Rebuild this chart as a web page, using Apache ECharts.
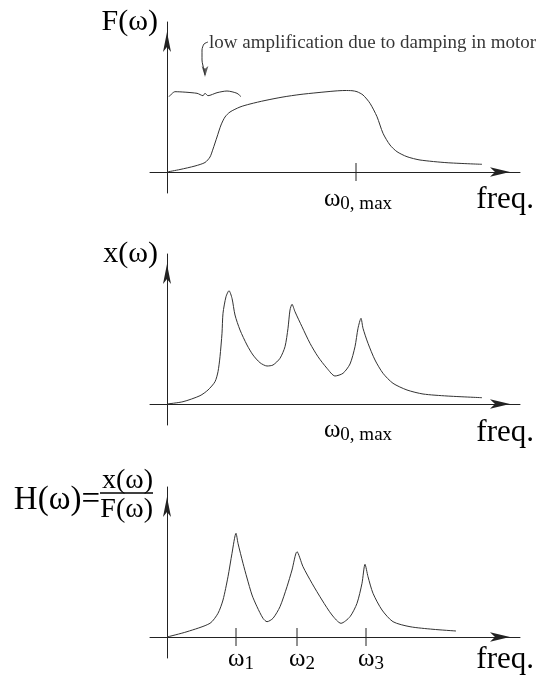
<!DOCTYPE html>
<html><head><meta charset="utf-8">
<script src="https://cdn.jsdelivr.net/npm/echarts@6/dist/echarts.min.js"></script>
<style>html,body{margin:0;padding:0;background:#fff}#c{width:539px;height:682px}</style>
</head><body><div id="c"></div>
<script>
// ---- data (frequency units along the axis, amplitude units up) ----
const forceFreq = [0,13,28,38,43,46,50,54,58,63,73,83,98,116,133,150,168,178,185,190,196,203,210,216,223,230,240,253,280,315];
const forceAmp  = [0,2.5,6,9.5,15,23,35,47,55,60,65,68,71.5,75,77.5,79.3,81,81.5,81.3,80.3,77,68.7,55.3,38.7,27,20.3,15.3,12,9.3,7.7];

const respFreq = [0,16,33,41,48,51,53,55,56,59,62,65,68,73,80,86,93,100,106,113,118,121,123,125,128,135,143,151,160,168,176,183,188,191,194,196,201,208,216,226,240,256,280,315];
const respAmp  = [0,2.3,8.3,14,22.3,32.3,47.3,70.7,90.7,107.3,113.3,105.7,89,74,59,49,41.3,38,39,45.7,57.3,75.7,94,99.7,92.3,77.3,60.7,47.3,35.7,28,30.7,40,57.3,75.7,85.7,75.7,60.7,44,30.7,20.7,14,10,8,6.3];

const transFreq = [0,20,43,51,56,61,65,69,71,76,80,85,90,96,100,106,113,120,125,130,136,145,155,165,174,183,190,195,198,201,206,215,226,243,266,289];
const transAmp  = [0,5.3,13.7,23.7,37,60.3,83.7,103.7,93.7,73.7,59,42,30.3,18.7,15.3,18.7,30.3,50.3,67,85.3,70.3,53.7,37,22,13.7,20.3,33.7,53.7,72.7,60.3,43.7,27,15.3,10.3,7.7,6];

const maxFreqTicks = [189];
const maxFreqLabels = ['0, max'];
const resonanceTicks = [69, 130, 199];
const resonanceLabels = ['1', '2', '3'];

const braceFreq = [2,8,30,36,38,41,50,60,70,74];
const braceAmp  = [75.3,80.3,78.7,76.3,78.7,76.3,79.3,81,78.7,75.3];
const leaderFreq = [41,37,35,35,37,38];
const leaderAmp  = [130,128,122,112,102,97];
const arrowHead = [[38, 95]];
const annotationAnchor = [[41, 129]];
const annotationText = 'low amplification due to damping in motor';

const axisTitles = ['F(ω)', 'x(ω)'];
const freqTitle = 'freq.';

// ---- chart ----
const serif = 'Liberation Serif';
const ink = '#222';
const curveColor = '#333';
const zip = (a, b) => a.map((v, i) => [v, b[i]]);

const grids = [
  {left:150, top:22, width:370, height:171, outerBoundsMode:'none', containLabel:false},
  {left:150, top:254, width:370, height:171, outerBoundsMode:'none', containLabel:false},
  {left:150, top:487, width:370, height:171, outerBoundsMode:'none', containLabel:false}
];

const richOmega = {
  w:{fontFamily:serif, fontSize:25, color:'#000', lineHeight:30, verticalAlign:'middle'},
  s:{fontFamily:serif, fontSize:19, color:'#000', lineHeight:30, verticalAlign:'bottom'}
};

function xAxisCfg(gi, vals, fmt, margin, padLeft, namePad) {
  return {
    gridIndex:gi, type:'value', min:-17, max:353,
    axisLine:{show:true, onZero:true, symbol:['none','arrow'], symbolSize:[7,20], symbolOffset:[0,-10], lineStyle:{color:ink, width:1}},
    axisTick:{show:false}, splitLine:{show:false},
    axisLabel:{show:true, customValues:vals, formatter:fmt, margin:margin, padding:[0,0,0,padLeft], rich:richOmega},
    name:freqTitle, nameLocation:'end', nameGap:14,
    nameTextStyle:{fontFamily:serif, fontSize:31, color:'#000', align:'right', verticalAlign:'top', padding:[namePad,0,0,0]}
  };
}
function yAxisCfg(gi, name, nts, gap) {
  return {
    gridIndex:gi, type:'value', min:-21, max:150,
    axisLine:{show:true, onZero:true, symbol:['none','arrow'], symbolSize:[6,20], symbolOffset:[0,-10], lineStyle:{color:ink, width:1}},
    axisTick:{show:false}, splitLine:{show:false}, axisLabel:{show:false},
    name:name, nameLocation:'end', nameGap:gap, nameTextStyle:nts
  };
}

const maxFmt = (v) => '{w|ω}{s|' + maxFreqLabels[maxFreqTicks.indexOf(v)] + '}';
const resFmt = (v) => '{w|ω}{s|' + resonanceLabels[resonanceTicks.indexOf(v)] + '}';

const nameStyle = {fontFamily:serif, fontSize:30, color:'#000', align:'right', verticalAlign:'middle', padding:[2,9,0,0]};
const hStyle = {
  fontFamily:serif, fontSize:27, color:'#000', align:'right', verticalAlign:'top', padding:[0,14,0,0],
  rich:{
    num:{fontFamily:serif, fontSize:28, color:'#000', lineHeight:22, align:'right'},
    h:{fontFamily:serif, fontSize:33, color:'#000', lineHeight:2, align:'left', padding:[14,0,0,0]},
    bar:{fontSize:1, lineHeight:2, width:53, height:1.5, backgroundColor:'#000', align:'right'},
    den:{fontFamily:serif, fontSize:28, color:'#000', lineHeight:31, align:'right'}
  }
};
const hTitle = '{num|x(ω)}\n{h|H(ω)=}{bar| }\n{den|F(ω)}';

function tickSeries(xi, vals) {
  return {
    type:'custom', xAxisIndex:xi, yAxisIndex:xi, silent:true, z:5,
    data: vals.map(v => [v, 0]),
    renderItem: (params, api) => {
      const p = api.coord([api.value(0), 0]);
      return {type:'line', shape:{x1:p[0], y1:p[1]-9, x2:p[0], y2:p[1]+9}, style:{stroke:ink, lineWidth:1}};
    }
  };
}
function curve(xi, xs, ys) {
  return {type:'line', xAxisIndex:xi, yAxisIndex:xi, data:zip(xs, ys), symbol:'none', smooth:0.25,
    lineStyle:{color:curveColor, width:1}, silent:true};
}

const option = {
  animation:false,
  backgroundColor:'#fff',
  grid:grids,
  xAxis:[xAxisCfg(0, maxFreqTicks, maxFmt, -9, 4, 12), xAxisCfg(1, maxFreqTicks, maxFmt, -10, 4, 13), xAxisCfg(2, resonanceTicks, resFmt, -14, 10, 7)],
  yAxis:[yAxisCfg(0, axisTitles[0], nameStyle, 0), yAxisCfg(1, axisTitles[1], nameStyle, 0), yAxisCfg(2, hTitle, hStyle, 17)],
  series:[
    curve(0, forceFreq, forceAmp),
    curve(1, respFreq, respAmp),
    curve(2, transFreq, transAmp),
    tickSeries(0, maxFreqTicks),
    tickSeries(2, resonanceTicks),
    curve(0, braceFreq, braceAmp),
    curve(0, leaderFreq, leaderAmp),
    {type:'scatter', xAxisIndex:0, yAxisIndex:0, data:arrowHead, symbol:'arrow', symbolSize:[5,11], symbolRotate:180,
      itemStyle:{color:curveColor}, silent:true},
    {type:'scatter', xAxisIndex:0, yAxisIndex:0, data:annotationAnchor, symbolSize:0, silent:true,
      label:{show:true, position:'right', distance:1, formatter:annotationText, fontFamily:serif, fontSize:19, color:'#000'}}
  ]
};
const chart = echarts.init(document.getElementById('c'));
chart.setOption(option);
</script></body></html>
